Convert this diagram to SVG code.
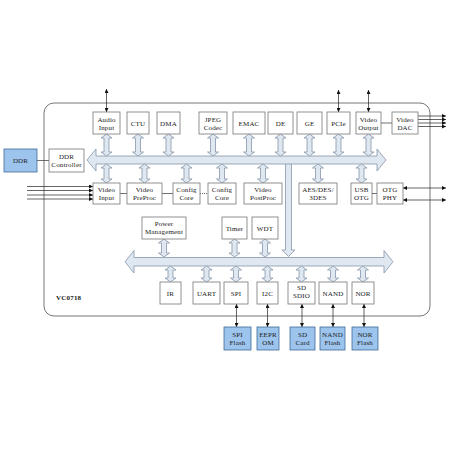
<svg xmlns="http://www.w3.org/2000/svg" width="450" height="450" viewBox="0 0 450 450">
<style>
.box{fill:#fff;stroke:#777;stroke-width:0.8}
.ext{fill:#9cc4ec;stroke:#3f6b98;stroke-width:0.8}
.bus{fill:#dfe8f1;stroke:#8696aa;stroke-width:0.8}
.chip{fill:#fff;stroke:#666;stroke-width:0.9}
.t{font-family:"Liberation Serif",serif;font-size:7px;letter-spacing:0.15px;fill:#222;text-anchor:middle}
.ln{stroke:#333;stroke-width:0.7;fill:none}
.ar{stroke:#222;stroke-width:0.7;fill:none;marker-end:url(#ah)}
.ar2{stroke:#222;stroke-width:0.7;fill:none;marker-start:url(#ah);marker-end:url(#ah)}
</style>
<defs>
<marker id="ah" viewBox="0 0 6 6" refX="6" refY="3" markerWidth="4" markerHeight="4" markerUnits="userSpaceOnUse" orient="auto-start-reverse"><path d="M0,0 L6,3 L0,6 Z" fill="#111"/></marker>
<path id="va22" class="bus" d="M0,0 L5.5,4 L2.5,4 L2.5,18 L5.5,18 L0,22 L-5.5,18 L-2.5,18 L-2.5,4 L-5.5,4 Z"/>
<path id="va19" class="bus" d="M0,0 L5.5,4 L2.5,4 L2.5,15 L5.5,15 L0,19 L-5.5,15 L-2.5,15 L-2.5,4 L-5.5,4 Z"/>
<path id="va18" class="bus" d="M0,0 L5.5,4 L2.5,4 L2.5,14 L5.5,14 L0,18 L-5.5,14 L-2.5,14 L-2.5,4 L-5.5,4 Z"/>
<path id="va16" class="bus" d="M0,0 L5.5,4 L2.5,4 L2.5,12 L5.5,12 L0,16 L-5.5,12 L-2.5,12 L-2.5,4 L-5.5,4 Z"/>
</defs>
<rect width="450" height="450" fill="#fff"/>
<rect class="chip" x="44" y="103" width="386" height="213" rx="10"/>
<text x="56" y="300" style="font-family:'Liberation Serif',serif;font-size:7px;font-weight:bold;letter-spacing:0.2px;fill:#222">VC0718</text>

<g id="connectors">
<line class="ln" x1="37" y1="160.5" x2="49" y2="160.5"/>
<line class="ln" x1="381" y1="123" x2="392" y2="123"/>
<line class="ln" x1="120" y1="193.5" x2="127" y2="193.5"/>
<line class="ln" x1="162" y1="193.5" x2="173" y2="193.5"/>
<line class="ln" x1="200" y1="193.5" x2="208" y2="193.5" stroke-dasharray="1,1"/>
<line class="ln" x1="372" y1="193.5" x2="377" y2="193.5"/>
<line class="ar" x1="27" y1="186.5" x2="93" y2="186.5"/>
<line class="ar" x1="27" y1="190.5" x2="93" y2="190.5"/>
<line class="ar" x1="27" y1="195" x2="93" y2="195"/>
<line class="ar" x1="27" y1="199" x2="93" y2="199"/>
<line class="ar" x1="418" y1="116" x2="446" y2="116"/>
<line class="ar" x1="418" y1="119.5" x2="446" y2="119.5"/>
<line class="ar" x1="418" y1="123" x2="446" y2="123"/>
<line class="ar" x1="418" y1="126.5" x2="446" y2="126.5"/>
<line class="ar2" x1="403" y1="188" x2="446" y2="188"/>
<line class="ar2" x1="403" y1="200" x2="446" y2="200"/>
<line class="ar2" x1="106.5" y1="89" x2="106.5" y2="112"/>
<line class="ar2" x1="338.5" y1="90" x2="338.5" y2="112"/>
<line class="ar2" x1="368.5" y1="90" x2="368.5" y2="112"/>
<line class="ar2" x1="236.5" y1="304" x2="236.5" y2="327"/>
<line class="ar2" x1="267.5" y1="304" x2="267.5" y2="327"/>
<line class="ar2" x1="302" y1="304" x2="302" y2="327"/>
<line class="ar2" x1="333" y1="304" x2="333" y2="327"/>
<line class="ar2" x1="364" y1="304" x2="364" y2="327"/>
<path class="bus" d="M285.5,163 L291.5,163 L291.5,250 L295,250 L288.5,256.5 L282,250 L285.5,250 Z"/>
<path id="upper-bus" class="bus" d="M87,160 L96,149 L96,156 L377,156 L377,149 L386,160 L377,171 L377,164 L96,164 L96,171 Z"/>
<path id="lower-bus" class="bus" d="M125,261.75 L134,250.5 L134,257.5 L384,257.5 L384,250.5 L393,261.75 L384,273 L384,266 L134,266 L134,273 Z"/>
<use href="#va22" x="106.5" y="134"/>
<use href="#va22" x="138" y="134"/>
<use href="#va22" x="168.5" y="134"/>
<use href="#va22" x="213" y="134"/>
<use href="#va22" x="249" y="134"/>
<use href="#va22" x="280.5" y="134"/>
<use href="#va22" x="309.5" y="134"/>
<use href="#va22" x="338.5" y="134"/>
<use href="#va22" x="368.5" y="134"/>
<use href="#va19" x="106.5" y="164"/>
<use href="#va19" x="144.5" y="164"/>
<use href="#va19" x="186.5" y="164"/>
<use href="#va19" x="222" y="164"/>
<use href="#va19" x="263" y="164"/>
<use href="#va19" x="318" y="164"/>
<use href="#va19" x="361.5" y="164"/>
<use href="#va18" x="164" y="239"/>
<use href="#va18" x="234.5" y="239"/>
<use href="#va18" x="265" y="239"/>
<use href="#va16" x="170.5" y="266"/>
<use href="#va16" x="206.5" y="266"/>
<use href="#va16" x="236" y="266"/>
<use href="#va16" x="267.5" y="266"/>
<use href="#va16" x="301.5" y="266"/>
<use href="#va16" x="333" y="266"/>
<use href="#va16" x="363" y="266"/>
</g>

<g id="audio-input"><rect class="box" x="93" y="112" width="27" height="22"/><text class="t" x="106.5" y="121.5">Audio</text><text class="t" x="106.5" y="129.5">Input</text></g>
<g id="ctu"><rect class="box" x="127" y="112" width="22" height="22"/><text class="t" x="138" y="125.5">CTU</text></g>
<g id="dma"><rect class="box" x="157" y="112" width="23" height="22"/><text class="t" x="168.5" y="125.5">DMA</text></g>
<g id="jpeg"><rect class="box" x="199" y="112" width="28" height="22"/><text class="t" x="213" y="121.5">JPEG</text><text class="t" x="213" y="129.5">Codec</text></g>
<g id="emac"><rect class="box" x="233" y="112" width="32" height="22"/><text class="t" x="249" y="125.5">EMAC</text></g>
<g id="de"><rect class="box" x="268" y="112" width="25" height="22"/><text class="t" x="280.5" y="125.5">DE</text></g>
<g id="ge"><rect class="box" x="297" y="112" width="25" height="22"/><text class="t" x="309.5" y="125.5">GE</text></g>
<g id="pcie"><rect class="box" x="327" y="112" width="23" height="22"/><text class="t" x="338.5" y="125.5">PCIe</text></g>
<g id="video-output"><rect class="box" x="356" y="112" width="25" height="22"/><text class="t" x="368.5" y="121.5">Video</text><text class="t" x="368.5" y="129.5">Output</text></g>
<g id="video-dac"><rect class="box" x="392" y="112" width="26" height="22"/><text class="t" x="405" y="121.5">Video</text><text class="t" x="405" y="129.5">DAC</text></g>

<g id="ddr"><rect class="ext" x="4" y="149" width="33" height="23"/><text class="t" x="20.5" y="163">DDR</text></g>
<g id="ddr-controller"><rect class="box" x="49" y="149" width="35" height="23"/><text class="t" x="66.5" y="158.5">DDR</text><text class="t" x="66.5" y="166.5">Controller</text></g>

<g id="video-input"><rect class="box" x="93" y="183" width="27" height="21"/><text class="t" x="106.5" y="192">Video</text><text class="t" x="106.5" y="200">Input</text></g>
<g id="video-preproc"><rect class="box" x="127" y="183" width="35" height="21"/><text class="t" x="144.5" y="192">Video</text><text class="t" x="144.5" y="200">PreProc</text></g>
<g id="config-core-1"><rect class="box" x="173" y="183" width="27" height="21"/><text class="t" x="186.5" y="192">Config</text><text class="t" x="186.5" y="200">Core</text></g>
<g id="config-core-2"><rect class="box" x="208" y="183" width="28" height="21"/><text class="t" x="222" y="192">Config</text><text class="t" x="222" y="200">Core</text></g>
<g id="video-postproc"><rect class="box" x="244" y="183" width="38" height="21"/><text class="t" x="263" y="192">Video</text><text class="t" x="263" y="200">PostProc</text></g>
<g id="aes"><rect class="box" x="299" y="183" width="38" height="21"/><text class="t" x="318" y="192">AES/DES/</text><text class="t" x="318" y="200">3DES</text></g>
<g id="usb-otg"><rect class="box" x="351" y="183" width="21" height="21"/><text class="t" x="361.5" y="192">USB</text><text class="t" x="361.5" y="200">OTG</text></g>
<g id="otg-phy"><rect class="box" x="377" y="183" width="26" height="21"/><text class="t" x="390" y="192">OTG</text><text class="t" x="390" y="200">PHY</text></g>

<g id="power-management"><rect class="box" x="142" y="217" width="44" height="22"/><text class="t" x="164" y="226">Power</text><text class="t" x="164" y="234">Management</text></g>
<g id="timer"><rect class="box" x="222" y="217" width="25" height="22"/><text class="t" x="234.5" y="230.5">Timer</text></g>
<g id="wdt"><rect class="box" x="252" y="217" width="26" height="22"/><text class="t" x="265" y="230.5">WDT</text></g>

<g id="ir"><rect class="box" x="160" y="282" width="21" height="22"/><text class="t" x="170.5" y="295.5">IR</text></g>
<g id="uart"><rect class="box" x="193" y="282" width="27" height="22"/><text class="t" x="206.5" y="295.5">UART</text></g>
<g id="spi"><rect class="box" x="224" y="282" width="24" height="22"/><text class="t" x="236" y="295.5">SPI</text></g>
<g id="i2c"><rect class="box" x="257" y="282" width="21" height="22"/><text class="t" x="267.5" y="295.5">I2C</text></g>
<g id="sd-sdio"><rect class="box" x="288" y="282" width="27" height="22"/><text class="t" x="301.5" y="290">SD</text><text class="t" x="301.5" y="298">SDIO</text></g>
<g id="nand"><rect class="box" x="319" y="282" width="28" height="22"/><text class="t" x="333" y="295.5">NAND</text></g>
<g id="nor"><rect class="box" x="352" y="282" width="22" height="22"/><text class="t" x="363" y="295.5">NOR</text></g>

<g id="spi-flash"><rect class="ext" x="224" y="327" width="27" height="23"/><text class="t" x="237.5" y="336.5">SPI</text><text class="t" x="237.5" y="344.5">Flash</text></g>
<g id="eeprom"><rect class="ext" x="257" y="327" width="22" height="23"/><text class="t" x="268" y="336.5">EEPR</text><text class="t" x="268" y="344.5">OM</text></g>
<g id="sd-card"><rect class="ext" x="290" y="327" width="25" height="23"/><text class="t" x="302.5" y="336.5">SD</text><text class="t" x="302.5" y="344.5">Card</text></g>
<g id="nand-flash"><rect class="ext" x="320" y="327" width="25" height="23"/><text class="t" x="332.5" y="336.5">NAND</text><text class="t" x="332.5" y="344.5">Flash</text></g>
<g id="nor-flash"><rect class="ext" x="352" y="327" width="26" height="23"/><text class="t" x="365" y="336.5">NOR</text><text class="t" x="365" y="344.5">Flash</text></g>
</svg>
